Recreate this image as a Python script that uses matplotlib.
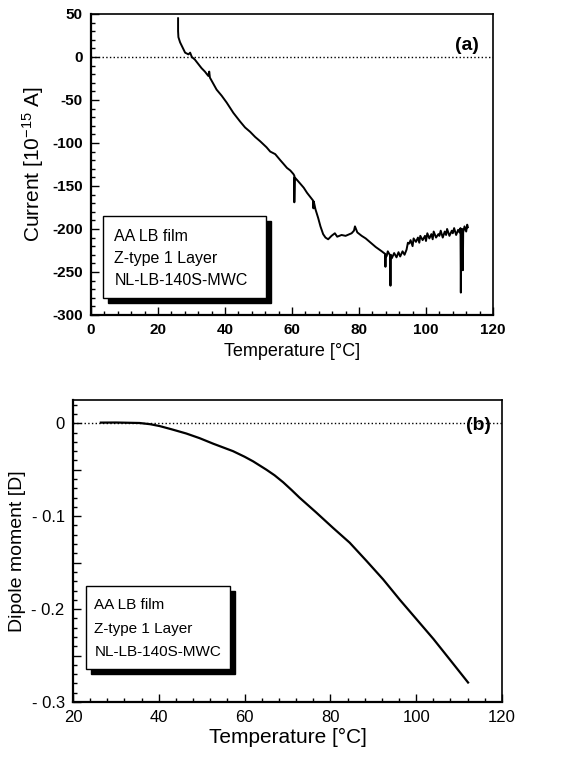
import matplotlib
matplotlib.use("Agg")
import matplotlib.pyplot as plt
from matplotlib.patches import Rectangle
from matplotlib.ticker import MultipleLocator

plt.rcParams['font.family'] = ['Liberation Sans', 'DejaVu Sans']
plt.rcParams['axes.unicode_minus'] = False
plt.rcParams['mathtext.fontset'] = 'custom'
plt.rcParams['mathtext.rm'] = 'Liberation Sans'
plt.rcParams['mathtext.it'] = 'Liberation Sans:italic'
plt.rcParams['mathtext.bf'] = 'Liberation Sans:bold'

# (a) TSC current vs temperature
temp_a = [26.0, 26.0, 26.1, 26.6, 27.1, 27.6, 28.1, 28.6, 29.1, 29.6, 30.1, 31.0,
          32.0, 33.0, 34.0, 35.0, 35.3, 35.5, 36.5, 37.5, 39.0, 40.5, 42.5, 44.5,
          46.0, 47.5, 49.0, 50.5, 52.4, 53.5, 55.0, 56.5, 57.4, 58.5, 59.5, 60.4,
          60.7, 60.7, 60.8, 61.5, 62.4, 63.5, 64.5, 65.5, 66.3, 66.4, 66.5, 67.0,
          67.8, 68.5, 69.3, 70.0, 70.8, 71.8, 72.8, 73.5, 74.8, 76.0, 77.8, 78.5,
          78.8, 79.5, 80.8, 82.0, 83.8, 85.0, 86.8, 87.8, 87.9, 88.0, 88.2, 88.6,
          89.3, 89.4, 89.5, 89.8, 90.5, 91.2, 91.8, 92.3, 93.0, 93.6, 94.2, 94.6,
          95.0, 95.4, 96.0, 96.3, 97.0, 97.6, 98.0, 98.3, 99.0, 99.7, 100.0, 100.4,
          101.0, 101.6, 102.0, 102.3, 103.0, 103.7, 104.0, 104.4, 105.0, 105.6,
          106.0, 106.3, 107.0, 107.7, 108.0, 108.4, 109.0, 109.6, 110.0, 110.3,
          110.4, 110.5, 110.8, 111.0, 111.1, 111.5, 112.0, 112.3, 112.5]
current_a = [45, 30, 23, 17, 13, 9, 5, 4, 3, 5, 0, -3,
             -8, -13, -17, -22, -17, -24, -31, -38, -45, -53, -65, -75,
             -82, -87, -93, -98, -105, -110, -113, -120, -124, -129, -132, -136,
             -138, -169, -140, -143, -147, -152, -158, -163, -167, -176, -168, -177,
             -187, -197, -206, -210, -212, -208, -205, -209, -207, -208, -205, -202,
             -197, -204, -208, -211, -217, -221, -226, -229, -244, -230, -232, -226,
             -231, -266, -230, -234, -228, -233, -227, -232, -226, -230, -224, -216,
             -217, -213, -220, -211, -215, -210, -216, -208, -213, -208, -214, -205,
             -211, -206, -212, -203, -210, -206, -208, -202, -210, -203, -207, -200,
             -208, -202, -205, -199, -207, -201, -204, -199,
             -274, -205, -200, -248, -204, -197, -203, -195, -198]

# (b) dipole moment vs temperature
temp_b = [26.5, 30.0, 35.5, 38.0, 40.2, 43.0, 46.4, 49.5, 52.7, 55.0, 57.3, 60.0,
          62.0, 65.1, 67.0, 69.0, 71.0, 72.8, 76.7, 80.6, 84.5, 88.4, 92.3, 96.2,
          100.1, 104.0, 107.8, 112.1]
dipole_b = [0.0007, 0.0008, 0.0003, -0.001, -0.003, -0.0065, -0.011, -0.016, -0.022,
            -0.026, -0.030, -0.036, -0.041, -0.050, -0.056, -0.0635, -0.072, -0.080,
            -0.096, -0.1125, -0.1285, -0.148, -0.168, -0.190, -0.211, -0.232,
            -0.254, -0.279]

legend_lines = ["AA LB film", "Z-type 1 Layer", "NL-LB-140S-MWC"]

fig = plt.figure(figsize=(5.64, 7.63), dpi=100)
ax1 = fig.add_axes([0.1613, 0.5872, 0.7128, 0.3945])
ax2 = fig.add_axes([0.1294, 0.0799, 0.7606, 0.3958])


def style_axes(ax, size, weight):
    for s in ['top', 'right']:
        ax.spines[s].set_linewidth(1.2)
    for s in ['left', 'bottom']:
        ax.spines[s].set_linewidth(1.6)
    ax.tick_params(which='both', direction='in', top=False, right=False,
                   width=1.0, labelsize=size, pad=6)
    ax.tick_params(which='major', length=6)
    ax.tick_params(which='minor', length=3)
    for lab in ax.get_xticklabels() + ax.get_yticklabels():
        lab.set_fontweight(weight)


def text_box(ax, x0, y0, x1, y1, tx, ty, dy, shx, shy, size):
    ax.add_patch(Rectangle((x0 + shx, y0 - shy), x1 - x0, y1 - y0,
                           transform=ax.transAxes, facecolor='black',
                           edgecolor='black', zorder=4))
    ax.add_patch(Rectangle((x0, y0), x1 - x0, y1 - y0, transform=ax.transAxes,
                           facecolor='white', edgecolor='black', lw=1.0, zorder=5))
    for i, line in enumerate(legend_lines):
        ax.text(tx, ty - i * dy, line, transform=ax.transAxes, fontsize=size,
                va='center', ha='left', zorder=6)


# panel (a)
ax1.plot(temp_a, current_a, color='black', lw=1.4)
ax1.axhline(0, color='black', ls=':', lw=1.0)
ax1.set_xlim(0, 120)
ax1.set_ylim(-300, 50)
ax1.xaxis.set_major_locator(MultipleLocator(20))
ax1.xaxis.set_minor_locator(MultipleLocator(4))
ax1.yaxis.set_major_locator(MultipleLocator(50))
ax1.yaxis.set_minor_locator(MultipleLocator(10))
style_axes(ax1, 11, 'bold')
ax1.set_xlabel("Temperature [°C]", fontsize=13, labelpad=4)
ax1.set_ylabel("Current [10$^{-15}$ A]", fontsize=15, labelpad=4)
ax1.text(0.935, 0.895, "(a)", transform=ax1.transAxes, fontsize=14,
         fontweight='bold', ha='center', va='center')
text_box(ax1, 0.030, 0.056, 0.435, 0.329, 0.058, 0.262, 0.073, 0.012, 0.017, 11.5)

# panel (b)
ax2.plot(temp_b, dipole_b, color='black', lw=1.6)
ax2.axhline(0, color='black', ls=':', lw=1.0)
ax2.set_xlim(20, 120)
ax2.set_ylim(-0.3, 0.025)
ax2.xaxis.set_major_locator(MultipleLocator(20))
ax2.xaxis.set_minor_locator(MultipleLocator(4))
ax2.set_yticks([-0.3, -0.25, -0.2, -0.15, -0.1, -0.05, 0.0])
ax2.set_yticklabels(["- 0.3", "", "- 0.2", "", "- 0.1", "", "0"])
ax2.yaxis.set_minor_locator(MultipleLocator(0.01))
style_axes(ax2, 12, 'normal')
ax2.set_xlabel("Temperature [°C]", fontsize=15, labelpad=2)
ax2.set_ylabel("Dipole moment [D]", fontsize=14, labelpad=4)
ax2.text(0.945, 0.915, "(b)", transform=ax2.transAxes, fontsize=14,
         fontweight='bold', ha='center', va='center')
text_box(ax2, 0.030, 0.109, 0.366, 0.384, 0.050, 0.321, 0.078, 0.012, 0.017, 11)

fig.savefig("out.png", dpi=100)
